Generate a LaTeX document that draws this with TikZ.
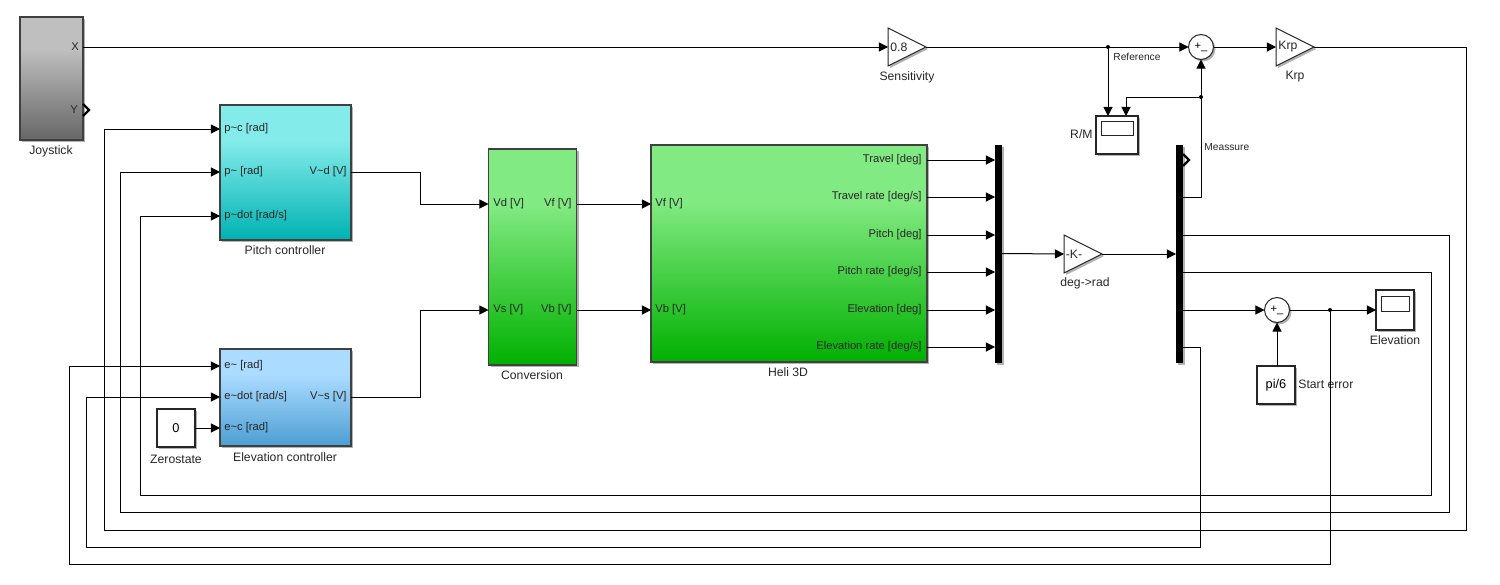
\documentclass[tikz,border=0pt]{standalone}
\usepackage{fontspec}
\setmainfont{Liberation Sans}
\usetikzlibrary{arrows.meta,shapes.geometric,shadows}

\def\px{0.5pt}

\definecolor{joyTop}{HTML}{BFBFBF}\definecolor{joyBot}{HTML}{666666}
\definecolor{pitchTop}{HTML}{84EBEB}\definecolor{pitchBot}{HTML}{00B2B2}
\definecolor{elevTop}{HTML}{ABDCFF}\definecolor{elevBot}{HTML}{4C9ED3}
\definecolor{heliTop}{HTML}{82EA82}\definecolor{heliBot}{HTML}{00B000}

\pgfdeclareverticalshading{joyShade}{100bp}{color(0bp)=(joyBot); color(25bp)=(joyBot); color(62bp)=(joyTop); color(100bp)=(joyTop)}
\pgfdeclareverticalshading{pitchShade}{100bp}{color(0bp)=(pitchBot); color(25bp)=(pitchBot); color(62bp)=(pitchTop); color(100bp)=(pitchTop)}
\pgfdeclareverticalshading{elevShade}{100bp}{color(0bp)=(elevBot); color(25bp)=(elevBot); color(62bp)=(elevTop); color(100bp)=(elevTop)}
\pgfdeclareverticalshading{heliShade}{100bp}{color(0bp)=(heliBot); color(25bp)=(heliBot); color(62bp)=(heliTop); color(100bp)=(heliTop)}

\tikzset{
    softShadow/.style={drop shadow={shadow xshift=1pt,shadow yshift=-1pt,fill=black,opacity=.3}},
    block/.style={draw=black!75,line width=0.6pt,rectangle,inner sep=0pt,outer sep=0pt,softShadow},
    whiteBlock/.style={block,fill=white,draw=black!85,font=\fontsize{6.4}{7}\selectfont},
    screenBox/.style={draw=black!85,line width=0.5pt,fill=white,inner sep=0pt,outer sep=0pt},
    barBlock/.style={rectangle,fill=black,inner sep=0pt,outer sep=0pt,minimum width=7*\px,minimum height=218*\px,softShadow},
    gainBlock/.style={isosceles triangle,isosceles triangle stretches,shape border rotate=0,draw=black!85,fill=white,line width=0.5pt,
        minimum width=38*\px,minimum height=38*\px,inner sep=0pt,outer sep=0pt,anchor=lower side,softShadow},
    sumBlock/.style={circle,draw=black!85,fill=white,line width=0.5pt,minimum size=25*\px,inner sep=0pt,outer sep=0pt,
        font=\fontsize{5.6}{6}\selectfont,softShadow},
    joinDot/.style={circle,fill=black,minimum size=4*\px,inner sep=0pt,outer sep=0pt},
    portLabel/.style={font=\fontsize{5.6}{6}\selectfont,inner sep=0pt,text=black!85},
    blockName/.style={font=\fontsize{6.1}{7}\selectfont,inner sep=0pt,text=black!85},
    signalName/.style={font=\fontsize{5.1}{6}\selectfont,inner sep=0pt,text=black!85},
    wire/.style={line width=0.5pt},
    sig/.style={wire,-{Triangle[length=4.6pt,width=4.6pt]}},
    chevron/.style={line width=1.1pt,miter limit=10}
}

\begin{document}
\begin{tikzpicture}[x=\px,y=-\px]
    \useasboundingbox (0,0) rectangle (1500,584);

    % blocks
    \node[block,shading=joyShade,minimum width=63*\px,minimum height=123*\px] (joystick) at (51.5,78.5) {};
    \node[block,shading=pitchShade,minimum width=131*\px,minimum height=135*\px] (pitch) at (285.5,172.5) {};
    \node[block,shading=elevShade,minimum width=131*\px,minimum height=97*\px] (elev) at (285.5,397.5) {};
    \node[block,shading=heliShade,minimum width=88*\px,minimum height=216*\px] (conv) at (532.5,257) {};
    \node[block,shading=heliShade,minimum width=276*\px,minimum height=217*\px] (heli) at (789,253.5) {};
    \node[whiteBlock,minimum width=38*\px,minimum height=38*\px] (zero) at (176,428) {0};
    \node[whiteBlock,minimum width=38*\px,minimum height=38*\px] (startErr) at (1276,385) {pi/6};
    \node[whiteBlock,minimum width=42*\px,minimum height=38*\px] (scopeRM) at (1117,135) {};
    \node[whiteBlock,minimum width=38*\px,minimum height=40*\px] (scopeElev) at (1395,310) {};
    \node[screenBox,minimum width=32*\px,minimum height=14*\px] (screenRM) at (1117.5,128) {};
    \node[screenBox,minimum width=28*\px,minimum height=15*\px] (screenElev) at (1395,303.5) {};
    \node[barBlock] (mux) at (998.5,253.5) {};
    \node[barBlock] (demux) at (1179.5,253.5) {};
    \node[gainBlock] (sens) at (888,47) {};
    \node[gainBlock] (krp) at (1276,47) {};
    \node[gainBlock] (toRad) at (1064,254) {};
    \node[sumBlock] (sumTop) at (1201,47) {+\_};
    \node[sumBlock] (sumLow) at (1277,310) {+\_};

    % block names
    \node[blockName] (joystickName) at (51,151) {Joystick};
    \node[blockName] (pitchName) at (285,250) {Pitch controller};
    \node[blockName] (elevName) at (285,457) {Elevation controller};
    \node[blockName] (zeroName) at (176,459) {Zerostate};
    \node[blockName] (convName) at (532,375) {Conversion};
    \node[blockName] (heliName) at (788,372) {Heli 3D};
    \node[blockName] (sensName) at (907,77) {Sensitivity};
    \node[blockName] (krpName) at (1295,77) {Krp};
    \node[blockName] (toRadName) at (1085,283) {deg->rad};
    \node[blockName,anchor=east] (scopeRMName) at (1093,134) {R/M};
    \node[blockName] (scopeElevName) at (1395,340) {Elevation};
    \node[blockName,anchor=west] (startErrName) at (1298,384) {Start error};
    \node[blockName,anchor=west] (sensVal) at (890,47) {0.8};
    \node[blockName,anchor=west] (krpVal) at (1278,47) {Krp};
    \node[blockName] (toRadVal) at (1074,254) {-K-};

    % ports
    \node[portLabel] (joyX) at (75,47) {X};
    \node[portLabel] (joyY) at (74,110) {Y};
    \node[portLabel,anchor=west] (pitchPc) at (224,129) {p\textasciitilde c [rad]};
    \node[portLabel,anchor=west] (pitchP) at (224,172) {p\textasciitilde{} [rad]};
    \node[portLabel,anchor=west] (pitchPdot) at (224,216) {p\textasciitilde dot [rad/s]};
    \node[portLabel,anchor=east] (pitchV) at (347,172) {V\textasciitilde d [V]};
    \node[portLabel,anchor=west] (elevE) at (224,366) {e\textasciitilde{} [rad]};
    \node[portLabel,anchor=west] (elevEdot) at (224,397) {e\textasciitilde dot [rad/s]};
    \node[portLabel,anchor=west] (elevEc) at (224,428) {e\textasciitilde c [rad]};
    \node[portLabel,anchor=east] (elevV) at (347,397) {V\textasciitilde s [V]};
    \node[portLabel,anchor=west] (convVd) at (493,204) {Vd [V]};
    \node[portLabel,anchor=west] (convVs) at (493,310) {Vs [V]};
    \node[portLabel,anchor=east] (convVf) at (572,204) {Vf [V]};
    \node[portLabel,anchor=east] (convVb) at (572,310) {Vb [V]};
    \node[portLabel,anchor=west] (heliVf) at (655,204) {Vf [V]};
    \node[portLabel,anchor=west] (heliVb) at (655,310) {Vb [V]};
    \foreach \n/\y/\txt in {1/160/{Travel [deg]},2/197/{Travel rate [deg/s]},3/235/{Pitch [deg]},
            4/272/{Pitch rate [deg/s]},5/310/{Elevation [deg]},6/347/{Elevation rate [deg/s]}}{%
            \node[portLabel,anchor=east] (heliOut\n) at (922,\y) {\txt};
            \draw[sig] (heli.east |- heliOut\n) -- (mux.west |- heliOut\n);
        }

    % signal names
    \node[signalName,anchor=west] (refName) at (1113,57) {Reference};
    \node[signalName,anchor=west] (measName) at (1204,147) {Meassure};

    % junctions
    \node[joinDot] (refDot) at (1108,47) {};
    \node[joinDot] (measDot) at (1201,97) {};
    \node[joinDot] (errDot) at (1330,310) {};
    \coordinate (scopeRMin) at (1126,116);

    % forward path
    \draw[sig] (joystick.east |- joyX) -- (sens.lower side);
    \draw[sig] (sens.apex) -- (sumTop.west);
    \draw[sig] (sumTop.east) -- (krp.lower side);
    \draw[sig] (refDot) -- (scopeRM.north -| refDot);
    \draw[sig] (pitch.east |- pitchV) -| (420,204) -- (conv.west |- convVd);
    \draw[sig] (elev.east |- elevV) -| (420,310) -- (conv.west |- convVs);
    \draw[sig] (conv.east |- convVf) -- (heli.west |- heliVf);
    \draw[sig] (conv.east |- convVb) -- (heli.west |- heliVb);
    \draw[sig] (mux.east) -- (toRad.lower side);
    \draw[sig] (toRad.apex) -- (demux.west |- toRad.apex);
    \draw[sig] (zero.east) -- (elev.west |- elevEc);

    % measurement
    \draw[sig] (demux.east |- 0,197) -| (sumTop.south);
    \draw[sig] (measDot) -| (scopeRMin);
    \draw[sig] (demux.east |- 0,310) -- (sumLow.west);
    \draw[sig] (sumLow.east) -- (scopeElev.west);
    \draw[sig] (startErr.north -| sumLow) -- (sumLow.south);

    % return lines
    \draw[sig] (krp.apex) -| (1466,530) -| (104,129) -- (pitch.west |- pitchPc);
    \draw[sig] (demux.east |- 0,235) -| (1449,512) -| (120,172) -- (pitch.west |- pitchP);
    \draw[sig] (demux.east |- 0,272) -| (1431,495) -| (140,216) -- (pitch.west |- pitchPdot);
    \draw[sig] (demux.east |- 0,347) -| (1200.5,547) -| (86.5,397) -- (elev.west |- elevEdot);
    \draw[sig] (errDot) |- (69,564) |- (elev.west |- elevE);

    % unconnected outputs
    \draw[chevron] (83,104) -- (89,110) -- (83,116);
    \draw[chevron] (1183,154) -- (1189,160) -- (1183,166);
\end{tikzpicture}
\end{document}
